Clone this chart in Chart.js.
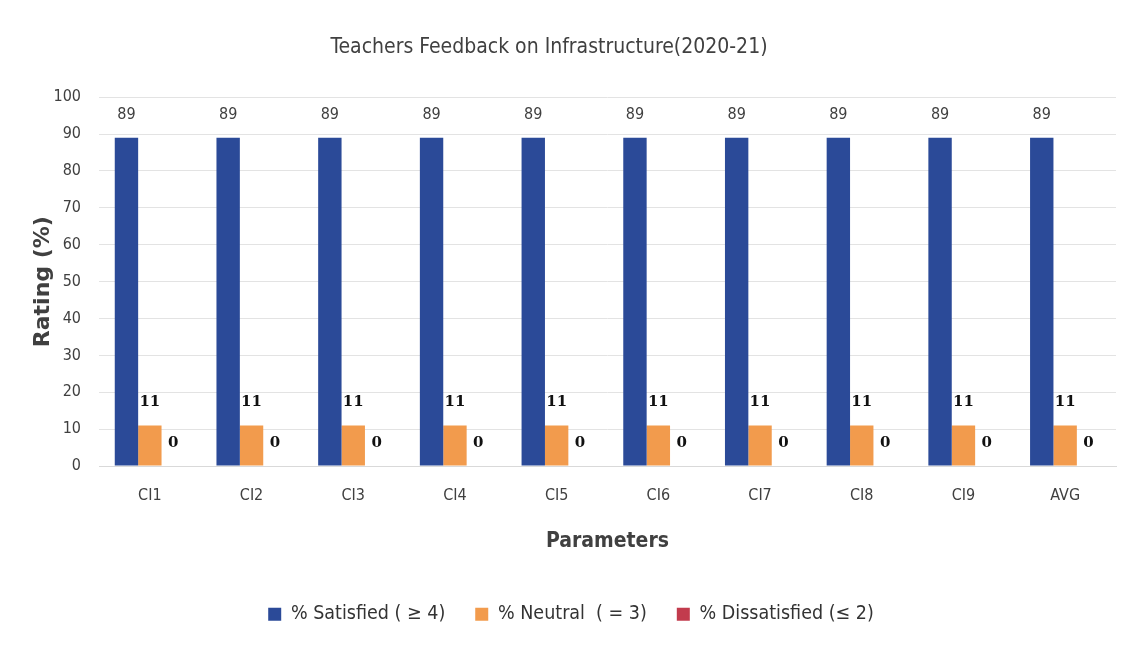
<!DOCTYPE html>
<html>
<head>
<meta charset="utf-8">
<script src="https://cdn.jsdelivr.net/npm/chart.js@4/dist/chart.umd.min.js"></script>
<style>
html,body{margin:0;padding:0;background:#fff;}
#wrap{width:1129px;height:651px;position:relative;}
</style>
</head>
<body>
<div id="wrap"><canvas id="c" width="1129" height="651"></canvas></div>
<script>
const categories = ['CI1','CI2','CI3','CI4','CI5','CI6','CI7','CI8','CI9','AVG'];
const satisfied = [89,89,89,89,89,89,89,89,89,89];
const neutral = [11,11,11,11,11,11,11,11,11,11];
const dissatisfied = [0,0,0,0,0,0,0,0,0,0];
const seriesNames = ['% Satisfied ( \u2265 4)','% Neutral  ( = 3)','% Dissatisfied (\u2264 2)'];
const yTicks = [0,10,20,30,40,50,60,70,80,90,100];

const FONT = '"Liberation Sans Narrow","DejaVu Sans Condensed","Liberation Sans",sans-serif';

const labelPlugin = {
  id: 'valLabels',
  afterLayout(chart) {
    const t = chart.titleBlock;
    if (t) { t.left -= 22; t.right -= 22; }
  },
  afterDatasetsDraw(chart) {
    const ctx = chart.ctx;
    ctx.save();
    chart.data.datasets.forEach((ds, di) => {
      const meta = chart.getDatasetMeta(di);
      meta.data.forEach((bar, i) => {
        const v = ds.data[i];
        if (di === 0) {
          ctx.font = '16px ' + FONT;
          ctx.fillStyle = '#404040';
        } else {
          ctx.font = 'bold 15px "DejaVu Serif",serif';
          ctx.fillStyle = '#111';
        }
        ctx.textAlign = 'center';
        ctx.textBaseline = 'middle';
        ctx.fillText(String(v), bar.x, bar.y - 23);
      });
    });
    ctx.restore();
  }
};

new Chart(document.getElementById('c'), {
  type: 'bar',
  data: {
    labels: categories,
    datasets: [
      {label: seriesNames[0], data: satisfied, backgroundColor: '#2B4A98'},
      {label: seriesNames[1], data: neutral, backgroundColor: '#F29B4D'},
      {label: seriesNames[2], data: dissatisfied, backgroundColor: '#C23B4D'}
    ]
  },
  options: {
    responsive: false,
    animation: false,
    devicePixelRatio: 1,
    layout: {padding: {left: 26, right: 13, top: 14, bottom: 17}},
    datasets: {bar: {categoryPercentage: 0.69, barPercentage: 1.0}},
    plugins: {
      title: {
        display: true,
        text: 'Teachers Feedback on Infrastructure(2020-21)',
        color: '#404040',
        font: {family: FONT, size: 21, weight: 'normal'},
        padding: {top: 21, bottom: 37}
      },
      legend: {
        position: 'bottom',
        labels: {
          color: '#333',
          font: {family: FONT, size: 19.5},
          boxWidth: 13, boxHeight: 13,
          padding: 30
        }
      },
      tooltip: {enabled: false}
    },
    scales: {
      x: {
        grid: {display: false},
        border: {color: '#d9d9d9'},
        ticks: {color: '#404040', font: {family: FONT, size: 16}, padding: 12},
        title: {display: true, text: 'Parameters', color: '#404040',
          font: {family: FONT, size: 21, weight: 'bold'}, padding: {top: 12, bottom: 20}}
      },
      y: {
        min: 0, max: 100,
        afterBuildTicks: (s) => { s.ticks = yTicks.map(v => ({value: v})); },
        afterFit: (s) => { s.width = 73; },
        grid: {color: '#e3e3e3', drawTicks: false},
        border: {display: false},
        ticks: {color: '#404040', font: {family: FONT, size: 16}, padding: 18},
        title: {display: true, text: 'Rating (%)', color: '#404040',
          font: {family: '"DejaVu Sans",sans-serif', size: 22, weight: 'bold'}, padding: {bottom: 4}}
      }
    }
  },
  plugins: [labelPlugin]
});
</script>
</body>
</html>
